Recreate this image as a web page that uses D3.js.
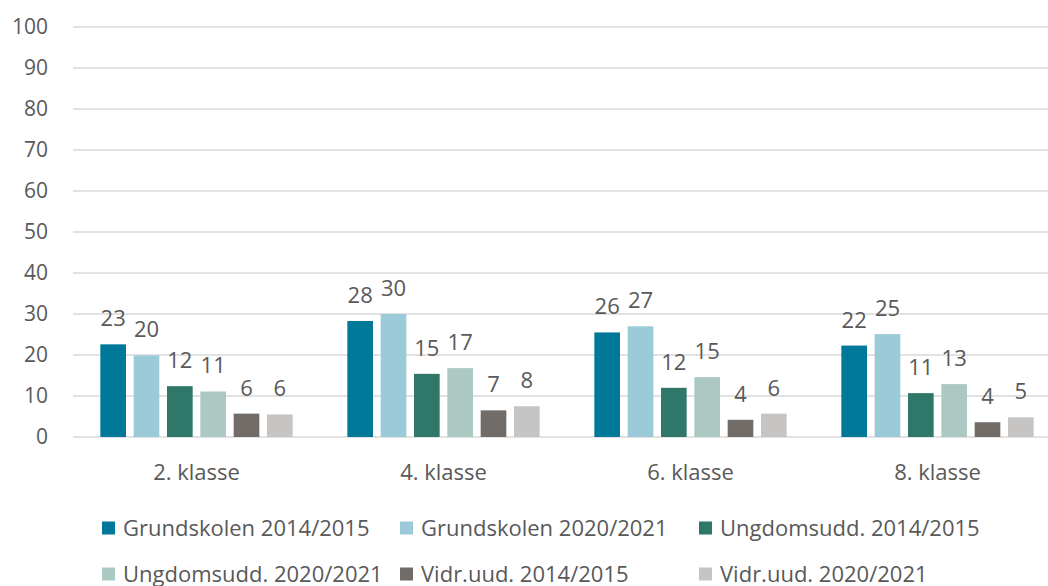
<!DOCTYPE html>
<html>
<head>
<meta charset="utf-8">
<script src="https://cdn.jsdelivr.net/npm/d3@7"></script>
<style>
  body { margin: 0; background: #fff; }
  svg { display: block; font-family: "Open Sans", "Noto Sans", sans-serif; }
</style>
</head>
<body>
<div id="chart"></div>
<script>
/* data */
const categories = ["2. klasse", "4. klasse", "6. klasse", "8. klasse"];
const seriesNames = [
  "Grundskolen 2014/2015",
  "Grundskolen 2020/2021",
  "Ungdomsudd. 2014/2015",
  "Ungdomsudd. 2020/2021",
  "Vidr.uud. 2014/2015",
  "Vidr.uud. 2020/2021"
];
// one array per series, in category order
const grund1415 = [22.6, 28.3, 25.5, 22.3];
const grund2021 = [19.9, 30.0, 27.0, 25.1];
const ungd1415  = [12.4, 15.4, 12.0, 10.7];
const ungd2021  = [11.1, 16.8, 14.6, 12.9];
const vidr1415  = [5.7, 6.5, 4.2, 3.6];
const vidr2021  = [5.5, 7.5, 5.7, 4.8];
const yTicks = [0, 10, 20, 30, 40, 50, 60, 70, 80, 90, 100];

const seriesValues = [grund1415, grund2021, ungd1415, ungd2021, vidr1415, vidr2021];
const colors = ["#00789a", "#9bcad8", "#2f7769", "#abc8c3", "#726c68", "#c6c5c3"];

/* layout */
const width = 1048, height = 586;
const textColor = "#595959";

const svg = d3.select("#chart").append("svg")
  .attr("width", width)
  .attr("height", height);

const y = d3.scaleLinear().domain([0, 100]).range([437, 27]);

const x0 = d3.scaleBand()
  .domain(categories)
  .range([73, 1061])
  .paddingInner(0)
  .paddingOuter(0);

const x1 = d3.scaleBand()
  .domain(seriesNames)
  .range([0, x0.bandwidth()])
  .paddingInner(0.23)
  .paddingOuter(0.82);

// gridlines
svg.append("g").selectAll("line")
  .data(yTicks)
  .join("line")
  .attr("x1", 73)
  .attr("x2", width)
  .attr("y1", d => y(d))
  .attr("y2", d => y(d))
  .attr("stroke", "#d9d9d9")
  .attr("stroke-width", 1.5);

// y tick labels
svg.append("g").selectAll("text")
  .data(yTicks)
  .join("text")
  .attr("x", 48)
  .attr("y", d => y(d))
  .attr("dy", "0.35em")
  .attr("text-anchor", "end")
  .attr("fill", textColor)
  .style("font-size", "21px")
  .text(d => d);

// bars
const rows = [];
categories.forEach((c, ci) => {
  seriesNames.forEach((s, si) => {
    rows.push({ cat: c, series: s, value: seriesValues[si][ci], color: colors[si] });
  });
});

const groups = svg.append("g");

groups.selectAll("rect")
  .data(rows)
  .join("rect")
  .attr("x", d => x0(d.cat) + x1(d.series))
  .attr("y", d => y(d.value))
  .attr("width", x1.bandwidth())
  .attr("height", d => y(0) - y(d.value))
  .attr("fill", d => d.color);

// value labels
groups.selectAll("text")
  .data(rows)
  .join("text")
  .attr("x", d => x0(d.cat) + x1(d.series) + x1.bandwidth() / 2)
  .attr("y", d => y(d.value) - 18)
  .attr("text-anchor", "middle")
  .attr("fill", textColor)
  .style("font-size", "22px")
  .text(d => Math.round(d.value));

// category labels
svg.append("g").selectAll("text")
  .data(categories)
  .join("text")
  .attr("x", d => x0(d) + x0.bandwidth() / 2)
  .attr("y", 472)
  .attr("dy", "0.35em")
  .attr("text-anchor", "middle")
  .attr("fill", textColor)
  .style("font-size", "22px")
  .text(d => d);

// legend
const legendX = [102, 400, 699];
const legendY = [528, 574];
const legend = svg.append("g").selectAll("g")
  .data(seriesNames)
  .join("g")
  .attr("transform", (d, i) => `translate(${legendX[i % 3]}, ${legendY[Math.floor(i / 3)]})`);

legend.append("rect")
  .attr("x", 0)
  .attr("y", -6.5)
  .attr("width", 13)
  .attr("height", 13)
  .attr("fill", (d, i) => colors[i]);

legend.append("text")
  .attr("x", 21)
  .attr("y", 0)
  .attr("dy", "0.35em")
  .attr("fill", textColor)
  .style("font-size", "22px")
  .text(d => d);
</script>
</body>
</html>
